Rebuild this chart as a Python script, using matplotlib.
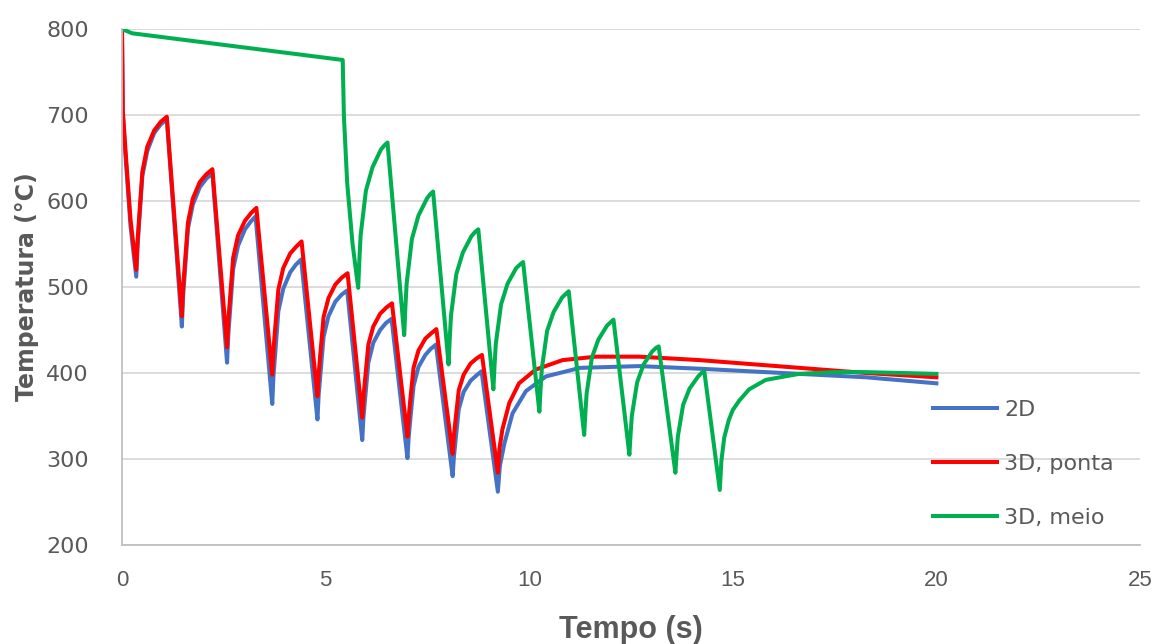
import matplotlib
matplotlib.use("Agg")
import matplotlib.pyplot as plt

# Temperatura ao longo do tempo: modelo 2D e modelo 3D (ponta e meio da peça)
t_2d = [0, 0.02, 0.09, 0.21, 0.35,
        0.38, 0.42, 0.50, 0.62, 0.79, 0.95, 1.10, 1.47,
        1.50, 1.54, 1.62, 1.74, 1.91, 2.07, 2.22, 2.58,
        2.61, 2.65, 2.73, 2.85, 3.02, 3.16, 3.28, 3.69,
        3.72, 3.76, 3.84, 3.96, 4.13, 4.27, 4.40, 4.80,
        4.83, 4.87, 4.95, 5.07, 5.24, 5.39, 5.53, 5.90,
        5.93, 5.97, 6.05, 6.17, 6.34, 6.48, 6.62, 7.01,
        7.04, 7.08, 7.16, 7.28, 7.45, 7.58, 7.71, 8.12,
        8.15, 8.19, 8.27, 8.39, 8.56, 8.70, 8.83, 9.23,
        9.28, 9.39, 9.59, 9.92, 10.41, 11.25, 12.7, 14.18, 16.63, 18.27, 20.0]
temp_2d = [800, 700, 650, 570, 512,
           545, 574, 629, 658, 679, 689, 695, 454,
           489, 515, 568, 596, 616, 626, 632, 412,
           444, 470, 521, 548, 567, 576, 582, 364,
           397, 421, 472, 498, 517, 526, 532, 346,
           375, 397, 442, 466, 483, 491, 496, 322,
           349, 370, 412, 435, 450, 458, 463, 301,
           325, 346, 385, 407, 421, 428, 433, 280,
           302, 321, 358, 378, 391, 397, 402, 262,
           292, 318, 353, 379, 396, 406, 408, 405, 399, 395, 388]

t_ponta = [0, 0.02, 0.09, 0.21, 0.35,
           0.38, 0.42, 0.50, 0.62, 0.79, 0.95, 1.10, 1.47,
           1.50, 1.54, 1.62, 1.74, 1.91, 2.07, 2.22, 2.58,
           2.61, 2.65, 2.73, 2.85, 3.02, 3.17, 3.30, 3.69,
           3.72, 3.76, 3.84, 3.96, 4.13, 4.28, 4.41, 4.80,
           4.83, 4.87, 4.95, 5.07, 5.24, 5.40, 5.54, 5.90,
           5.93, 5.97, 6.05, 6.17, 6.34, 6.49, 6.63, 7.01,
           7.04, 7.08, 7.16, 7.28, 7.45, 7.59, 7.72, 8.12,
           8.15, 8.19, 8.27, 8.39, 8.56, 8.71, 8.84, 9.23,
           9.27, 9.34, 9.51, 9.75, 10.16, 10.82, 11.64, 12.7, 14.18, 16.63, 18.27, 20.0]
temp_ponta = [800, 705, 656, 578, 520,
              552, 580, 634, 663, 682, 692, 698, 466,
              499, 524, 575, 603, 622, 631, 637, 430,
              461, 485, 534, 560, 577, 586, 592, 398,
              427, 451, 497, 522, 539, 547, 553, 373,
              399, 422, 465, 487, 503, 511, 516, 348,
              372, 393, 433, 454, 469, 476, 481, 326,
              348, 369, 406, 426, 440, 446, 451, 306,
              326, 345, 380, 398, 411, 417, 421, 284,
              312, 334, 365, 388, 404, 415, 419, 419, 415, 406, 400, 395]

t_meio = [0, 0.25, 5.42, 5.45, 5.53, 5.66, 5.80,
          5.83, 5.86, 5.99, 6.15, 6.36, 6.45, 6.52, 6.93,
          6.96, 6.99, 7.12, 7.28, 7.49, 7.57, 7.64, 8.02,
          8.05, 8.08, 8.21, 8.37, 8.58, 8.67, 8.75, 9.12,
          9.15, 9.18, 9.31, 9.47, 9.68, 9.77, 9.85, 10.25,
          10.28, 10.31, 10.44, 10.60, 10.81, 10.90, 10.97, 11.35,
          11.38, 11.41, 11.54, 11.70, 11.91, 12.00, 12.07, 12.46,
          12.49, 12.52, 12.65, 12.81, 13.02, 13.11, 13.18, 13.59,
          13.62, 13.65, 13.78, 13.94, 14.15, 14.23, 14.30, 14.68,
          14.72, 14.79, 14.90, 15.00, 15.16, 15.40, 15.81, 16.63, 17.45, 18.27, 20.0]
temp_meio = [800, 795, 764, 698, 621, 551, 499,
             532, 560, 612, 639, 660, 665, 668, 444,
             477, 504, 556, 583, 603, 608, 611, 410,
             441, 467, 515, 540, 559, 564, 567, 381,
             410, 434, 480, 504, 522, 526, 529, 355,
             382, 405, 449, 471, 488, 492, 495, 328,
             354, 376, 418, 439, 455, 459, 462, 305,
             329, 350, 389, 410, 425, 429, 431, 284,
             306, 326, 363, 382, 396, 400, 402, 264,
             298, 325, 345, 357, 368, 381, 392, 399, 401, 401, 399]

x_ticks = [0, 5, 10, 15, 20, 25]
y_ticks = [200, 300, 400, 500, 600, 700, 800]

text_color = "#595959"
grid_color = "#D9D9D9"

fig = plt.figure(figsize=(11.6, 6.44), dpi=100)
ax = fig.add_axes([122 / 1160, 1 - 545 / 644, 1018 / 1160, 516 / 644])

ax.plot(t_2d, temp_2d, color="#4472C4", lw=2.9, label="2D", solid_joinstyle="round")
ax.plot(t_ponta, temp_ponta, color="#FF0000", lw=2.9, label="3D, ponta", solid_joinstyle="round")
ax.plot(t_meio, temp_meio, color="#00B050", lw=2.9, label="3D, meio", solid_joinstyle="round")

ax.set_xlim(0, 25)
ax.set_ylim(200, 800)
ax.set_xticks(x_ticks)
ax.set_yticks(y_ticks)
ax.grid(axis="y", color=grid_color, lw=1.3)
ax.set_axisbelow(True)

for side in ["top", "right"]:
    ax.spines[side].set_visible(False)
for side in ["left", "bottom"]:
    ax.spines[side].set_color("#BFBFBF")
    ax.spines[side].set_linewidth(1.3)

ax.tick_params(axis="both", length=0)
ax.tick_params(axis="y", pad=24, labelsize=16, labelcolor=text_color)
ax.tick_params(axis="x", pad=18, labelsize=16, labelcolor=text_color)
for lbl in ax.get_xticklabels():
    lbl.set_family(["Liberation Sans Narrow", "Liberation Sans"])

ax.set_xlabel("Tempo (s)", fontsize=22, fontweight="bold", color=text_color,
              family=["Liberation Sans Narrow", "Liberation Sans"], labelpad=17)
ax.set_ylabel("Temperatura (°C)", fontsize=17, fontweight="bold", color=text_color,
              labelpad=5)

leg = ax.legend(loc="upper left", bbox_to_anchor=(933 / 1160, 1 - 400 / 644),
                bbox_transform=fig.transFigure, frameon=False, fontsize=16,
                handlelength=2.9, handletextpad=0.3, labelspacing=1.52,
                borderpad=0, borderaxespad=0)
for txt in leg.get_texts():
    txt.set_color(text_color)

fig.savefig("out.png", dpi=100)
